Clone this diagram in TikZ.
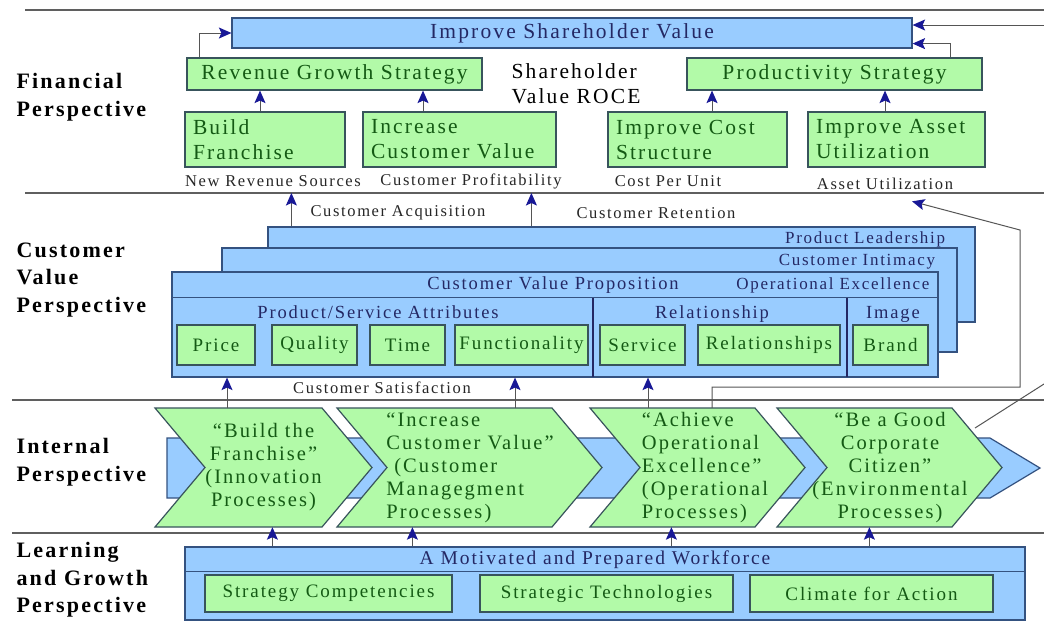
\documentclass[tikz,border=0pt]{standalone}
\usepackage{fontspec}
\setmainfont{Liberation Serif}[LetterSpace=10]
\usepackage{tikz}
\usetikzlibrary{positioning, arrows.meta}

\definecolor{boxblue}{RGB}{153,204,255}
\definecolor{boxgreen}{RGB}{178,250,168}
\definecolor{edgeblue}{RGB}{52,82,128}
\definecolor{edgegreen}{RGB}{56,84,92}
\definecolor{textgreen}{RGB}{20,90,20}
\definecolor{textnavy}{RGB}{36,40,100}
\definecolor{tipnavy}{RGB}{24,24,150}
\definecolor{rulegray}{RGB}{95,95,95}
\definecolor{wiregray}{RGB}{85,85,85}

\begin{document}
\begin{tikzpicture}[
    x=1pt, y=-1pt,
    >={Stealth[length=12.5pt, width=11pt, inset=2.5pt, color=tipnavy]},
    % Boxes
    blue_box/.style={rectangle, draw=edgeblue, fill=boxblue, line width=1.2pt, inner sep=0pt},
    green_box/.style={rectangle, draw=edgegreen, fill=boxgreen, line width=1.2pt,
        inner sep=0pt, text=textgreen},
    fin_box/.style={green_box, fin_text, align=left, minimum height=55pt, inner xsep=8pt},
    attr_box/.style={green_box, minimum height=40pt, font=\fontsize{19}{22}\selectfont},
    chev_shape/.style={draw=edgegreen, fill=boxgreen, line width=1.2pt},
    chev_text/.style={inner sep=0pt, minimum height=119pt, align=center, text=textgreen,
        font=\fontsize{20.5}{23}\selectfont},
    % Lines
    divider/.style={draw=rulegray, line width=1.8pt},
    edge_line/.style={draw=edgeblue, line width=1.2pt},
    part_line/.style={draw=textnavy, line width=1.8pt},
    link/.style={draw=wiregray, line width=1pt},
    % Labels
    persp_text/.style={font=\fontsize{22}{27.5}\selectfont\bfseries, align=left, anchor=west},
    fin_text/.style={font=\fontsize{21.5}{25}\selectfont},
    cv_text/.style={font=\fontsize{17}{20}\selectfont, text=textnavy},
    head_text/.style={font=\fontsize{18.5}{21}\selectfont, text=textnavy},
    note_text/.style={font=\fontsize{16.5}{19}\selectfont, text=black!85}
]

    \fill[white] (0,0) rectangle (1044,622);
    \useasboundingbox (0,0) rectangle (1044,622);

    % --- SECTION RULES ---
    \foreach \y/\x in {10/25, 193/25, 400/12, 533/12}
        \draw[divider] (\x,\y) -- (1044,\y);
    \coordinate (rule2) at (25,193);

    % --- FINANCIAL PERSPECTIVE ---
    \node[persp_text] (finpersp) at (13,97) {Financial\\Perspective};

    \node[blue_box, fin_text, text=textnavy, minimum width=680pt, minimum height=30pt]
        (isv) at (572,33) {Improve Shareholder Value};
    \node[green_box, fin_text, minimum width=295pt, minimum height=32pt]
        (rgs) at (334.5,74) {Revenue Growth Strategy};
    \node[green_box, fin_text, minimum width=295pt, minimum height=32pt]
        (ps) at (834.5,74) {Productivity Strategy};
    \node[fin_text, align=left, anchor=west] (roce) at (508,84) {Shareholder\\Value ROCE};

    \node[fin_box, text width=144pt] (bf) at (265,139.5) {Build\\Franchise};
    \node[fin_box, text width=177pt] (icv) at (459.5,139.5) {Increase\\Customer Value};
    \node[fin_box, text width=163pt] (ics) at (697.5,139.5) {Improve Cost\\Structure};
    \node[fin_box, text width=161pt] (iau) at (896.5,139.5) {Improve Asset\\Utilization};

    \node[note_text] (nrs) at (273,181) {New Revenue Sources};
    \node[note_text] (cpr) at (471,181) {Customer Profitability};
    \node[note_text] (cpu) at (668,181) {Cost Per Unit};
    \node[note_text] (aut) at (885,184) {Asset Utilization};

    \draw[->, link] ([xshift=-5pt]bf.north) -- ([xshift=-5pt]bf.north |- rgs.south);
    \draw[->, link] ([xshift=-36.5pt]icv.north) -- ([xshift=-36.5pt]icv.north |- rgs.south);
    \draw[->, link] ([xshift=14.5pt]ics.north) -- ([xshift=14.5pt]ics.north |- ps.south);
    \draw[->, link] ([xshift=-11.5pt]iau.north) -- ([xshift=-11.5pt]iau.north |- ps.south);
    \draw[->, link] ([xshift=13pt]rgs.north west) |- (isv.west);
    \draw[->, link] ([xshift=-32pt]ps.north east) |- ([yshift=5pt]isv.south east);

    % --- CUSTOMER VALUE PERSPECTIVE ---
    \node[persp_text] (cvpersp) at (13,280) {Customer\\Value\\Perspective};

    \node[blue_box, minimum width=707pt, minimum height=95pt] (pl) at (621.5,274.5) {};
    \node[cv_text, anchor=base east] (pltxt) at ([xshift=-27pt,yshift=-17pt]pl.north east)
        {Product Leadership};
    \node[blue_box, minimum width=735pt, minimum height=104pt] (ci) at (589.5,300) {};
    \node[cv_text, anchor=base east] (citxt) at ([xshift=-19pt,yshift=-18pt]ci.north east)
        {Customer Intimacy};
    \node[blue_box, minimum width=766pt, minimum height=105pt] (cvp) at (555,324.5) {};
    \draw[edge_line] ([yshift=-26pt]cvp.north west) -- ([yshift=-26pt]cvp.north east);
    \draw[part_line] (593,298) -- (593,377);
    \draw[part_line] (847,298) -- (847,377);

    \node[head_text] (cvptxt) at (553,285) {Customer Value Proposition};
    \node[cv_text, anchor=east] (oetxt) at (933,285) {Operational Excellence};
    \node[head_text] (psa) at (378,312) {Product/Service Attributes};
    \node[head_text] (rel) at (712,314) {Relationship};
    \node[head_text] (img) at (893,314) {Image};

    \foreach \nm/\cx/\w/\txt in {price/216/78/Price, qual/314.5/85/Quality,
        time/407.5/75/Time, func/521.5/133/Functionality, serv/642.5/85/Service,
        rels/769/142/Relationships, brand/890.5/75/Brand}
        \node[attr_box, minimum width=\w pt] (\nm) at (\cx,345) {\txt};

    \draw[->, link] ([xshift=24pt]pl.north west) -- ([xshift=24pt]pl.north west |- rule2);
    \draw[->, link] ([xshift=264pt]pl.north west) -- ([xshift=264pt]pl.north west |- rule2);
    \node[note_text] (acq) at (398,213) {Customer Acquisition};
    \node[note_text] (ret) at (656,213) {Customer Retention};
    \node[note_text] (sat) at (382,388) {Customer Satisfaction};

    % --- INTERNAL PERSPECTIVE ---
    \node[persp_text] (intpersp) at (13,462) {Internal\\Perspective};

    \fill[boxblue, draw=edgeblue, line width=1.2pt]
        (167,438) -- (990,438) -- (1040,468) -- (990,498) -- (167,498) -- cycle;

    % chevrons: left edge / top right corner
    \foreach \l/\r in {155/322, 337/552, 590/755, 777/952}
        \filldraw[chev_shape] (\l,408) -- (\r,408) -- ++(50,59.5) -- (\r,527)
            -- (\l,527) -- ++(50,-59.5) -- cycle;

    \node[chev_text] (c1) at (263.5,467.5)
        {“Build the\\Franchise”\\(Innovation\\Processes)};
    \node[chev_text, align=left] (c2) at (470,467.5)
        {“Increase\\Customer Value”\\\hspace{8pt}(Customer\\Managegment\\Processes)};
    \node[chev_text, align=left] (c3) at (705,467.5)
        {“Achieve\\Operational\\Excellence”\\(Operational\\Processes)};
    \node[chev_text] (c4) at (890,467.5)
        {“Be a Good\\Corporate\\Citizen”\\(Environmental\\Processes)};

    \foreach \dx/\c in {-36.5/c1, 45/c2, -57/c3}
        \draw[->, link] ([xshift=\dx pt]\c.north) -- ([xshift=\dx pt]\c.north |- cvp.south);

    % feedback lines on the right
    \coordinate (loop_a) at (1020,387);
    \coordinate (loop_b) at (1020,230);
    \coordinate (c4_rim) at (975,428);
    \coordinate (rim_low) at (1044,384);
    \coordinate (rim_top) at (1044,25);
    \draw[->, link] ([xshift=7pt]c3.north) |- (loop_a) -- (loop_b)
        -- ([xshift=27pt,yshift=-8pt]aut.south);
    \draw[link] (c4_rim) -- (rim_low);
    \draw[->, link] (rim_top) -- ([yshift=8pt]isv.east);

    % --- LEARNING AND GROWTH PERSPECTIVE ---
    \node[persp_text] (lgpersp) at (13,580) {Learning\\and Growth\\Perspective};

    \node[blue_box, minimum width=840pt, minimum height=73pt] (mpw) at (605,583.5) {};
    \draw[edge_line] ([yshift=-25pt]mpw.north west) -- ([yshift=-25pt]mpw.north east);
    \node[head_text, font=\fontsize{19.5}{22}\selectfont] (mpwtxt) at (595,560)
        {A Motivated and Prepared Workforce};

    \foreach \nm/\cx/\w/\txt in {sc/328.5/247/Strategy Competencies,
        st/606.5/253/Strategic Technologies, cfa/871.5/243/Climate for Action}
        \node[attr_box, minimum height=37pt, minimum width=\w pt] (\nm) at (\cx,593.5) {\txt};

    \foreach \dx/\c in {88/c1, 228/c2, 487/c3, 685/c4}
        \draw[->, link] ([xshift=\dx pt]mpw.north west) -- ([xshift=\dx pt]mpw.north west |- \c.south);

\end{tikzpicture}
\end{document}
